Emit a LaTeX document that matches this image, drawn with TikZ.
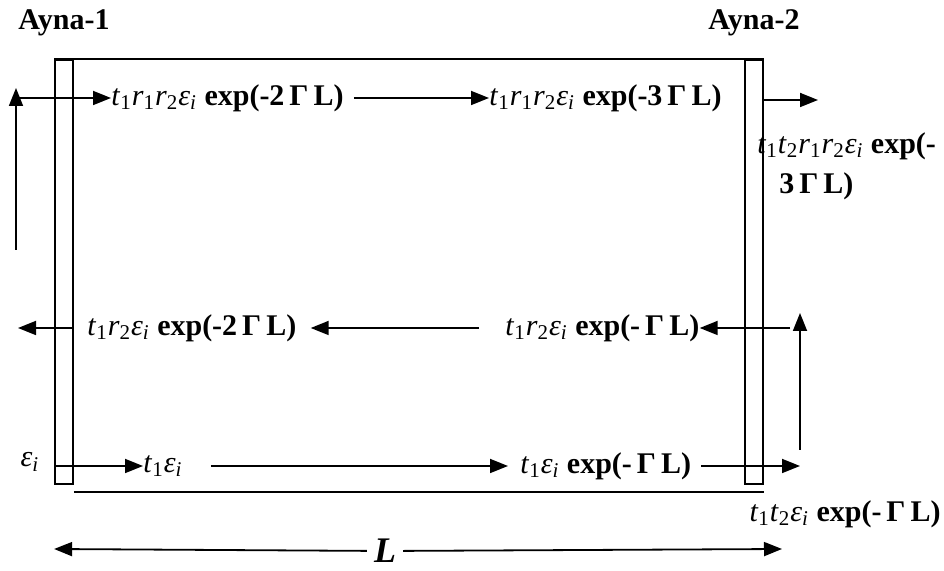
\documentclass[tikz,border=0pt]{standalone}
\usepackage{fontspec}
\setmainfont{Liberation Serif}
\usetikzlibrary{arrows.meta, positioning, calc}

\newcommand{\coef}[2]{\textmd{\textit{#1}}\textsubscript{\textmd{#2}}}
\newcommand{\fld}{\textmd{\textit{ε}}\textsubscript{\textmd{\textit{i}}}}

\begin{document}
\begin{tikzpicture}[
    x=0.5pt, y=-0.5pt,
    every node/.style={font=\fontsize{15}{20}\selectfont\bfseries},
    mirror/.style={draw, line width=0.9pt, minimum width=9pt,
        minimum height=212pt, inner sep=0pt},
    term/.style={anchor=west, inner sep=0pt},
    ray/.style={-{Triangle[length=9pt, width=7pt]}, line width=0.9pt},
    wall/.style={line width=0.9pt},
]
\useasboundingbox (0,0) rectangle (944,571);

% ===== Mirrors =====
\node[mirror] (m1) at (64,272) {};
\node[mirror] (m2) at (754,272) {};
\node[above=8pt of m1] (lab1) {Ayna-1};
\node[above=8pt of m2] (lab2) {Ayna-2};

\draw[wall] (m1.north west) -- (m2.north east);
\draw[wall] ($(m1.south east)+(0,7)$) -- ($(m2.south east)+(0,7)$);

% ===== Top row: after one round trip =====
\node[term] (tA) at (111,98)
    {\coef{t}{1}\coef{r}{1}\coef{r}{2}\fld\ exp(-2\,Γ\,L)};
\node[term] (tB) at (489,98)
    {\coef{t}{1}\coef{r}{1}\coef{r}{2}\fld\ exp(-3\,Γ\,L)};
\node[term, align=left] (tC) at (757,166)
    {\coef{t}{1}\coef{t}{2}\coef{r}{1}\coef{r}{2}\fld\ exp(-\\
     \hspace*{11pt}3\,Γ\,L)};

\coordinate (fbL) at (16,250);
\coordinate (fbLtop) at (16,88);
\draw[ray] (fbL) -- (fbLtop);
\draw[ray] (fbL |- tA.west) -- (tA.west);
\draw[ray, shorten <=5pt] (tA.east) -- (tB.west);

\coordinate (outT) at (818,100);
\draw[ray] (m2.east |- outT) -- (outT);

% ===== Middle row: reflected at Ayna-2 =====
\node[term] (tD) at (87,328)
    {\coef{t}{1}\coef{r}{2}\fld\ exp(-2\,Γ\,L)};
\node[term] (tE) at (505,328)
    {\coef{t}{1}\coef{r}{2}\fld\ exp(-\,Γ\,L)};

\coordinate (outM) at (18,328);
\draw[ray] (m1.east |- outM) -- (outM);
\draw[ray, shorten <=13pt, shorten >=7pt] (tE.west) -- (tD.east);

\coordinate (inM) at (790,328);
\draw[ray] (inM) -- (tE.east);
\coordinate (fbR) at (800,450);
\coordinate (fbRtop) at (800,313);
\draw[ray] (fbR) -- (fbRtop);

% ===== Bottom row: incident field =====
\node (src) at (30,462) {\fld};
\node[term] (tF) at (143,466) {\coef{t}{1}\fld};
\node[term] (tG) at (520,466)
    {\coef{t}{1}\fld\ exp(-\,Γ\,L)};
\node[term, anchor=east] (tH) at (941,514)
    {\coef{t}{1}\coef{t}{2}\fld\ exp(-\,Γ\,L)};

\draw[ray] (m1.west |- tF.west) -- (tF.west);
\draw[ray, shorten <=14pt, shorten >=6pt] (tF.east) -- (tG.west);
\coordinate (outB) at (800,466);
\draw[ray, shorten <=5pt] (tG.east) -- (outB);

% ===== Cavity length =====
\node[font=\fontsize{18}{20}\selectfont\bfseries\itshape] (len) at (385,551) {L};
\coordinate (lenB) at (782,549);
\draw[ray] (len) -- (m1.west |- lenB);
\draw[ray] (len) -- (lenB);

\end{tikzpicture}
\end{document}
